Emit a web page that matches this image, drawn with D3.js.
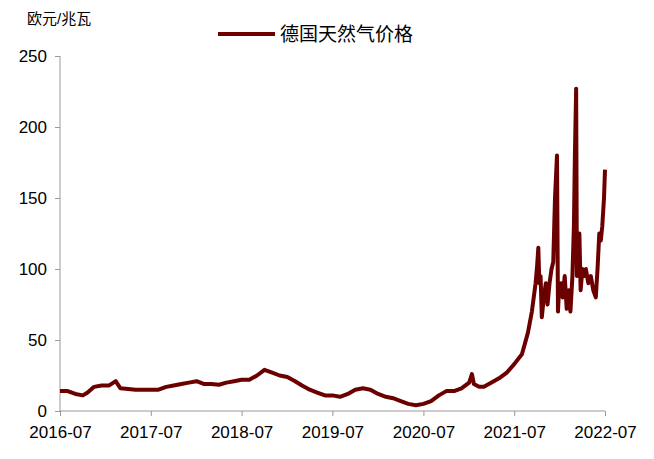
<!DOCTYPE html><html><head><meta charset="utf-8"><script src="https://cdn.jsdelivr.net/npm/d3@7"></script>
<style>body{margin:0;background:#fff}text{font-family:"Liberation Sans",Arial,"Noto Sans CJK SC",sans-serif}</style></head><body><svg id="c" width="654" height="459"></svg><script>
const dates=["2016-07-01","2016-08-01","2016-09-01","2016-10-01","2016-10-20","2016-11-15","2016-12-15","2017-01-15","2017-02-10","2017-03-01","2017-04-01","2017-05-01","2017-06-01","2017-07-01","2017-08-01","2017-09-01","2017-10-01","2017-11-01","2017-12-01","2018-01-01","2018-02-01","2018-03-01","2018-04-01","2018-05-01","2018-06-01","2018-07-01","2018-08-01","2018-09-01","2018-10-01","2018-11-01","2018-12-01","2019-01-01","2019-02-01","2019-03-01","2019-04-01","2019-05-01","2019-06-01","2019-07-01","2019-08-01","2019-09-01","2019-10-01","2019-11-01","2019-12-01","2020-01-01","2020-02-01","2020-03-01","2020-04-01","2020-05-01","2020-06-01","2020-07-01","2020-08-01","2020-09-01","2020-10-01","2020-11-01","2020-12-01","2021-01-01","2021-01-12","2021-01-20","2021-02-10","2021-03-01","2021-04-01","2021-05-01","2021-06-01","2021-07-01","2021-08-01","2021-08-25","2021-09-10","2021-09-25","2021-10-01","2021-10-06","2021-10-10","2021-10-15","2021-10-20","2021-10-28","2021-11-05","2021-11-12","2021-11-20","2021-11-28","2021-12-05","2021-12-12","2021-12-20","2021-12-24","2021-12-28","2022-01-05","2022-01-12","2022-01-20","2022-01-28","2022-02-05","2022-02-12","2022-02-20","2022-02-26","2022-03-02","2022-03-07","2022-03-10","2022-03-15","2022-03-20","2022-03-25","2022-04-01","2022-04-08","2022-04-15","2022-04-25","2022-05-05","2022-05-15","2022-05-25","2022-06-01","2022-06-08","2022-06-14","2022-06-20","2022-06-27","2022-07-01"];
const prices=[14,14,12,11,13,17,18,18,21,16,15.5,15,15,15,15,17,18,19,20,21,19,19,18.5,20,21,22,22,25,29,27,25,24,21,18,15,13,11,11,10,12,15,16,15,12,10,9,7,5,4,5,7,11,14,14,16,20,26,19,17,17,20,23,27,33,40,55,70,90,102,115,90,95,66,80,90,75,90,100,105,150,180,70,85,90,80,95,72,85,70,95,130,180,227,95,110,125,85,100,95,100,90,95,85,80,100,125,120,130,150,170];
const yTicks=[0,50,100,150,200,250];
const xTicks=["2016-07","2017-07","2018-07","2019-07","2020-07","2021-07","2022-07"];
const seriesName="德国天然气价格", unit="欧元/兆瓦";
const p=d3.timeParse("%Y-%m-%d"), pm=d3.timeParse("%Y-%m");
const svg=d3.select("#c");
const x=d3.scaleTime().domain([pm("2016-07"),pm("2022-07")]).range([60,605]);
const y=d3.scaleLinear().domain([0,250]).range([411,56]);
const data=dates.map((d,i)=>({d:p(d),v:prices[i]}));
const ya=svg.append("g").attr("transform","translate(60,0)").call(d3.axisLeft(y).tickValues(yTicks).tickSize(5).tickPadding(8));
const xa=svg.append("g").attr("transform","translate(0,411)").call(d3.axisBottom(x).tickValues(xTicks.map(pm)).tickFormat(d3.timeFormat("%Y-%m")).tickSize(5).tickPadding(10));
[ya,xa].forEach(a=>{a.selectAll("path,line").attr("stroke","#999");a.selectAll("text").attr("font-size",17).attr("fill","#000")});
xa.select(".domain").attr("d","M60,0H605");
ya.select(".domain").attr("d","M0,56V411");
svg.append("path").datum(data).attr("fill","none").attr("stroke","#6b0000").attr("stroke-width",4).attr("stroke-linejoin","round")
 .attr("d",d3.line().x(d=>x(d.d)).y(d=>y(d.v)));
svg.append("text").attr("x",27).attr("y",24).attr("font-size",15).text(unit);
svg.append("line").attr("x1",218).attr("x2",275).attr("y1",34).attr("y2",34).attr("stroke","#6b0000").attr("stroke-width",4);
svg.append("text").attr("x",280).attr("y",41).attr("font-size",19).text(seriesName);
</script></body></html>
